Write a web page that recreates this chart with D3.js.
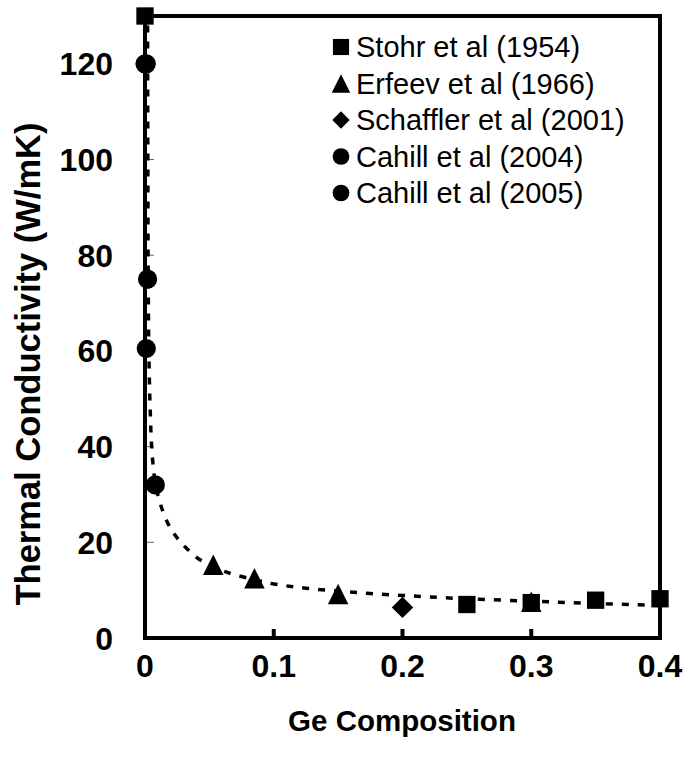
<!DOCTYPE html>
<html><head><meta charset="utf-8">
<script src="https://cdn.jsdelivr.net/npm/d3@7"></script>
<style>body{margin:0;background:#fff}svg{display:block}text{font-family:Arial,"Liberation Sans",sans-serif}</style>
</head><body>
<script>
const seriesNames = ["Stohr et al (1954)","Erfeev et al (1966)","Schaffler et al (2001)","Cahill et al (2004)","Cahill et al (2005)"];
const seriesSymbols = ["square","triangle","diamond","circle","circle"];
const stohrX = [0, 0.25, 0.3, 0.35, 0.4];
const stohrY = [130, 7.0, 7.4, 7.9, 8.2];
const erfeevX = [0.053, 0.085, 0.15, 0.3];
const erfeevY = [15.3, 12.5, 9.2, 7.6];
const schafflerX = [0.2];
const schafflerY = [6.4];
const cahill04X = [0, 0.001, 0.002, 0.001];
const cahill04Y = [120, 120, 75, 60.5];
const cahill05X = [0.008];
const cahill05Y = [32];
const fitX = [0.002,0.0022,0.0025,0.003,0.004,0.006,0.009,0.012,0.016,0.022,0.032,0.043,0.055,0.07,0.085,0.1,0.125,0.15,0.175,0.2,0.25,0.3,0.35,0.4];
const fitY = [128,100,75,60,48,37,31,28,25,22,18.8,16.3,14.6,13.2,12.2,11.3,10.4,9.8,9.3,8.9,8.2,7.7,7.2,6.8];
const xTicks = [0,0.1,0.2,0.3,0.4];
const yTicks = [0,20,40,60,80,100,120];

const W=686,H=761;
const svg=d3.select("body").append("svg").attr("width",W).attr("height",H);
const L=145,R=660,T=16,B=638;
const x=d3.scaleLinear().domain([0,0.4]).range([L,R]);
const y=d3.scaleLinear().domain([0,130]).range([B,T]);

// y ticks (inside, thin)
svg.append("g").selectAll("line").data(yTicks.filter(d=>d>0)).join("line")
  .attr("x1",L).attr("x2",L+9).attr("y1",d=>y(d)).attr("y2",d=>y(d))
  .attr("stroke","#666").attr("stroke-width",1);
// x ticks (inside, thick)
svg.append("g").selectAll("line").data(xTicks.slice(1,-1)).join("line")
  .attr("x1",d=>x(d)).attr("x2",d=>x(d)).attr("y1",B).attr("y2",B-9)
  .attr("stroke","#000").attr("stroke-width",4);

// fit curve
svg.append("path").datum(fitX.map((v,i)=>[v,fitY[i]]))
  .attr("d",d3.line().x(d=>x(d[0])).y(d=>y(d[1])).curve(d3.curveMonotoneY))
  .attr("fill","none").attr("stroke","#000").attr("stroke-width",3.5).attr("stroke-dasharray","7,9");

// frame
svg.append("rect").attr("x",L).attr("y",T).attr("width",R-L).attr("height",B-T)
  .attr("fill","none").attr("stroke","#000").attr("stroke-width",4);

const diamond={draw(ctx,size){const r=Math.sqrt(size/2);ctx.moveTo(0,-r);ctx.lineTo(r,0);ctx.lineTo(0,r);ctx.lineTo(-r,0);ctx.closePath();}};
const tri={draw(ctx,size){const s=Math.sqrt(size*2);ctx.moveTo(0,-s/2);ctx.lineTo(s/2,s/2);ctx.lineTo(-s/2,s/2);ctx.closePath();}};
const sym={square:d3.symbolSquare,triangle:tri,diamond:diamond,circle:d3.symbolCircle};
const sizes={square:300,triangle:210,diamond:230,circle:290};
const sets=[[stohrX,stohrY],[erfeevX,erfeevY],[schafflerX,schafflerY],[cahill04X,cahill04Y],[cahill05X,cahill05Y]];
sets.forEach((s,k)=>{
  const t=seriesSymbols[k];
  svg.append("g").selectAll("path").data(s[0].map((v,i)=>[v,s[1][i]])).join("path")
    .attr("transform",d=>`translate(${x(d[0])},${y(d[1])})`)
    .attr("d",d3.symbol(sym[t],sizes[t])).attr("fill","#000");
});

// tick labels
svg.append("g").selectAll("text").data(yTicks).join("text")
  .attr("x",113).attr("y",d=>y(d)).attr("dy","0.36em").attr("text-anchor","end")
  .attr("font-size",32).attr("font-weight","bold").text(d=>d);
svg.append("g").selectAll("text").data(xTicks).join("text")
  .attr("x",d=>x(d)).attr("y",677).attr("text-anchor","middle")
  .attr("font-size",32).attr("font-weight","bold").text(d=>d);

svg.append("text").attr("x",402).attr("y",731).attr("text-anchor","middle")
  .attr("font-size",29.5).attr("font-weight","bold").text("Ge Composition");
svg.append("text").attr("transform","translate(40,364) rotate(-90)")
  .attr("text-anchor","middle").attr("font-size",34.5).attr("font-weight","bold")
  .text("Thermal Conductivity (W/mK)");

// legend
const lg=svg.append("g");
const lsizes={square:260,triangle:170,diamond:150,circle:220};
seriesNames.forEach((n,i)=>{
  const yy=47+i*36.5, t=seriesSymbols[i];
  lg.append("path").attr("transform",`translate(341,${yy})`).attr("d",d3.symbol(sym[t],lsizes[t])).attr("fill","#000");
  lg.append("text").attr("x",356).attr("y",yy).attr("dy","0.36em").attr("font-size",29).text(n);
});
</script>
</body></html>
